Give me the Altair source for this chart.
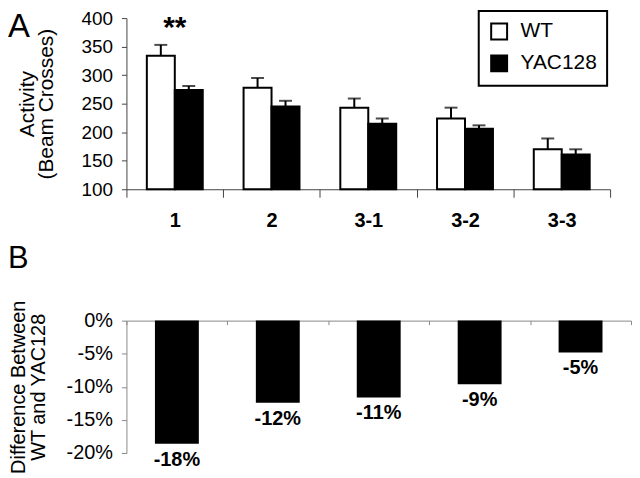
import altair as alt
import pandas as pd

sessions = ["1", "2", "3-1", "3-2", "3-3"]
genotypes = ["WT", "YAC128"]
wt_mean = [334, 278, 243, 224, 170]
wt_err = [19, 17, 16, 19, 19]
yac_mean = [274, 245, 215, 206, 161]
yac_err = [7, 10, 9, 6, 9]
diff_pct = [-18.6, -12.4, -11.6, -9.6, -4.8]
diff_labels = ["-18%", "-12%", "-11%", "-9%", "-5%"]
top_ticks = [100, 150, 200, 250, 300, 350, 400]
bot_ticks = [-20, -15, -10, -5, 0]

SANS = "Liberation Sans, Arial, sans-serif"

rows = []
for i, s in enumerate(sessions):
    rows.append({"session": s, "genotype": "WT", "mean": wt_mean[i], "upper": wt_mean[i] + wt_err[i]})
    rows.append({"session": s, "genotype": "YAC128", "mean": yac_mean[i], "upper": yac_mean[i] + yac_err[i]})
top_df = pd.DataFrame(rows)
bot_df = pd.DataFrame({"session": sessions, "diff": diff_pct, "label": diff_labels})
star_df = pd.DataFrame({"session": ["1"], "text": ["**"], "ypos": [366]})

TOP_W, TOP_H = 486, 172
BOT_W, BOT_H = 507, 133

x_top_axis = alt.Axis(title=None, labelAngle=0, tickBand="extent", tickSize=8,
                      labelPadding=13, labelFont=SANS, labelFontSize=20,
                      labelFontWeight="bold", labelColor="black",
                      domainColor="#444", tickColor="#444", grid=False)
x_top_scale = alt.Scale(paddingInner=0, paddingOuter=0)
y_top_axis = alt.Axis(values=top_ticks, tickCount=7, grid=False, labelOverlap=False,
                      title=["Activity", "(Beam Crosses)"], titleFont=SANS,
                      titleFontSize=21, titleFontWeight="normal", titleLineHeight=19,
                      titleX=-89, titleY=TOP_H / 2, titleAngle=-90,
                      titleAlign="center", titleBaseline="bottom", titleColor="black",
                      labelFont=SANS, labelFontSize=19, labelColor="black",
                      labelPadding=9, tickSize=5, domainColor="#444", tickColor="#444")
y_top_scale = alt.Scale(domain=[100, 400], zero=False, nice=False)
xoff = alt.XOffset("genotype:N", sort=genotypes,
                   scale=alt.Scale(paddingInner=0, paddingOuter=0.73))

bars = alt.Chart(top_df).mark_bar(stroke="black", strokeWidth=2).encode(
    x=alt.X("session:N", sort=sessions, scale=x_top_scale, axis=x_top_axis),
    xOffset=xoff,
    y=alt.Y("mean:Q", scale=y_top_scale, axis=y_top_axis),
    y2=alt.datum(100),
    fill=alt.Fill("genotype:N", sort=genotypes,
                  scale=alt.Scale(domain=genotypes, range=["white", "black"]),
                  legend=alt.Legend(title=None, orient="none", legendX=354, legendY=-7,
                                    symbolType="square", symbolSize=256,
                                    symbolStrokeColor="black", symbolStrokeWidth=2,
                                    labelFont=SANS, labelFontSize=21, labelColor="black",
                                    labelOffset=11, rowPadding=7, padding=10,
                                    strokeColor="black", fillColor="white")),
)

err_rule = alt.Chart(top_df).mark_rule(color="black", strokeWidth=2).encode(
    x=alt.X("session:N", sort=sessions, scale=x_top_scale, axis=x_top_axis), xOffset=xoff,
    y=alt.Y("mean:Q", scale=y_top_scale, axis=y_top_axis), y2="upper:Q",
)
err_cap = alt.Chart(top_df).mark_tick(color="black", thickness=2, size=13, orient="horizontal").encode(
    x=alt.X("session:N", sort=sessions, scale=x_top_scale, axis=x_top_axis), xOffset=xoff,
    y=alt.Y("upper:Q", scale=y_top_scale, axis=y_top_axis),
)
stars = alt.Chart(star_df).mark_text(font=SANS, fontSize=30, fontWeight="bold",
                                     baseline="alphabetic", color="black").encode(
    x=alt.X("session:N", sort=sessions, scale=x_top_scale, axis=x_top_axis),
    y=alt.Y("ypos:Q", scale=y_top_scale, axis=y_top_axis),
    text="text:N",
)
label_a = alt.Chart(star_df).mark_text(font=SANS, fontSize=33, align="left",
                                       baseline="alphabetic", color="black").encode(
    x=alt.value(-119), y=alt.value(19), text=alt.value("A"),
)

top = alt.layer(bars, err_rule, err_cap, stars, label_a).properties(width=TOP_W, height=TOP_H)

x_bot_axis = alt.Axis(title=None, labels=False, orient="bottom", offset=-BOT_H,
                      tickBand="extent", tickSize=4, domainColor="#888",
                      tickColor="#888", grid=False)
x_bot_scale = alt.Scale(paddingInner=0, paddingOuter=0)
y_bot_axis = alt.Axis(values=bot_ticks, tickCount=5, labelExpr="datum.value + '%'",
                      labelOverlap=False,
                      grid=False, title=["Difference Between", "WT and YAC128"],
                      titleFont=SANS, titleFontSize=20, titleFontWeight="normal",
                      titleLineHeight=20, titleX=-98, titleY=BOT_H / 2, titleAngle=-90,
                      titleAlign="center", titleBaseline="bottom", titleColor="black",
                      labelFont=SANS, labelFontSize=20, labelColor="black",
                      labelPadding=9, tickSize=5, domainColor="#888", tickColor="#888")
y_bot_scale = alt.Scale(domain=[-20, 0], nice=False)

bot_bars = alt.Chart(bot_df).mark_bar(color="black", width=alt.RelativeBandSize(0.435)).encode(
    x=alt.X("session:N", sort=sessions, scale=x_bot_scale, axis=x_bot_axis),
    y=alt.Y("diff:Q", scale=y_bot_scale, axis=y_bot_axis),
    y2=alt.datum(0),
)
bot_text = alt.Chart(bot_df).mark_text(font=SANS, fontSize=20, fontWeight="bold",
                                       baseline="top", dy=6, color="black").encode(
    x=alt.X("session:N", sort=sessions, scale=x_bot_scale, axis=x_bot_axis),
    y=alt.Y("diff:Q", scale=y_bot_scale, axis=y_bot_axis),
    text="label:N",
)
label_b = alt.Chart(star_df).mark_text(font=SANS, fontSize=31, align="left",
                                       baseline="alphabetic", color="black").encode(
    x=alt.value(-119), y=alt.value(-53), text=alt.value("B"),
)
bottom = alt.layer(bot_bars, bot_text, label_b).properties(width=BOT_W, height=BOT_H)

chart = alt.vconcat(top, bottom, spacing=132, bounds="flush").configure_view(
    stroke=None
).configure_legend(strokeWidth=2).properties(padding=0, background="white")

chart.save("out.html", embed_options={"renderer": "svg", "actions": False})
